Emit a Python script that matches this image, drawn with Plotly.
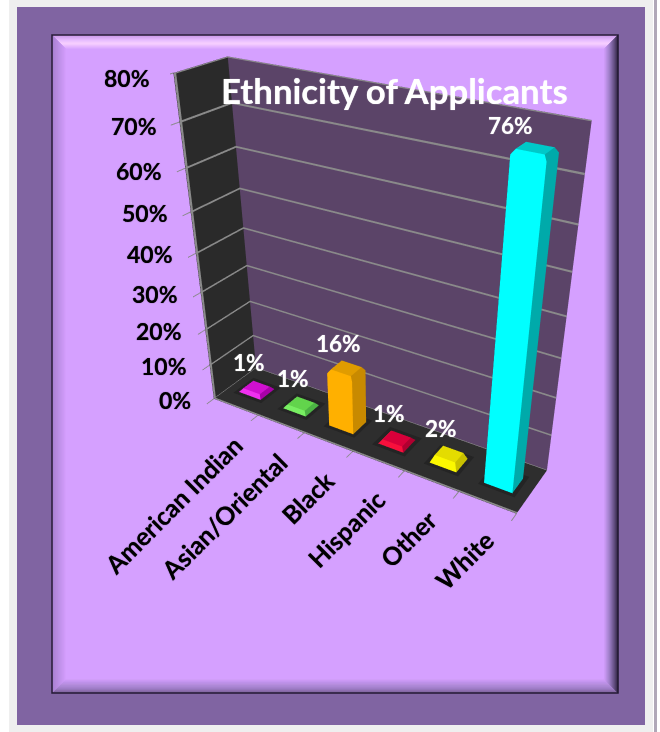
import plotly.graph_objects as go

categories = ["American Indian", "Asian/Oriental", "Black", "Hispanic", "Other", "White"]
values = [1, 1, 16, 1, 2, 76]
value_labels = ["1%", "1%", "16%", "1%", "2%", "76%"]
front = ["#f030f0", "#78ee62", "#ffb000", "#f8103c", "#fcf800", "#00ffff"]
side = ["#a800a8", "#4cb244", "#c88a00", "#b00030", "#c8c000", "#00aaaa"]
top = ["#d010d0", "#62d44c", "#e09c00", "#d8003a", "#e4dc00", "#00c8c8"]
tick_values = [0, 10, 20, 30, 40, 50, 60, 70, 80]
tick_labels = ["0%", "10%", "20%", "30%", "40%", "50%", "60%", "70%", "80%"]

W, Hh = 660, 732
FONT = "Lato"
GREY = "#8a8a8a"

HALF_W = .25
Y0, Y1 = .33, .67

FLAT = dict(ambient=1, diffuse=0, specular=0, roughness=1, fresnel=0)


def bar_mesh(i):
    """Box with a chamfered top edge; short bars are all chamfer, like a pillow."""
    c = i + .5
    h = values[i]
    tall = h > 5
    b = 1.0 if tall else h
    ix = .05 if tall else .06
    iy = .035 if tall else .05
    xs = [c - HALF_W, c + HALF_W, c + HALF_W, c - HALF_W]
    ys = [Y0, Y0, Y1, Y1]
    xi = [c - HALF_W + ix, c + HALF_W - ix, c + HALF_W - ix, c - HALF_W + ix]
    yi = [Y0 + iy, Y0 + iy, Y1 - iy, Y1 - iy]
    X = xs + xs + xi
    Y = ys + ys + yi
    Z = [0] * 4 + [h - b] * 4 + [h] * 4
    I, J, K, col = [], [], [], []

    def quad(p, q, r, s, color):
        I.extend([p, p])
        J.extend([q, r])
        K.extend([r, s])
        col.extend([color, color])

    quad(0, 1, 5, 4, front[i])
    quad(1, 2, 6, 5, side[i])
    quad(2, 3, 7, 6, side[i])
    quad(3, 0, 4, 7, side[i])
    quad(4, 5, 9, 8, front[i])
    quad(5, 6, 10, 9, side[i])
    quad(6, 7, 11, 10, top[i])
    quad(7, 4, 8, 11, top[i] if tall else front[i])
    quad(8, 9, 10, 11, top[i])
    return go.Mesh3d(x=X, y=Y, z=Z, i=I, j=J, k=K, facecolor=col, flatshading=True,
                     hoverinfo="skip", lighting=FLAT)


def shadow_mesh(i):
    c = i + .5
    m = .07
    return go.Mesh3d(x=[c - HALF_W - m, c + HALF_W + m, c + HALF_W + m, c - HALF_W - m],
                     y=[Y0 - .06, Y0 - .06, Y1 + .08, Y1 + .08], z=[.05] * 4,
                     i=[0, 0], j=[1, 2], k=[2, 3], color="#242424", flatshading=True,
                     hoverinfo="skip", lighting=FLAT)


def strips(quads):
    """One grey mesh out of thin quads, each given by its four corners."""
    X, Y, Z, I, J, K = [], [], [], [], [], []
    for corners in quads:
        n = len(X)
        for cx, cy, cz in corners:
            X.append(cx)
            Y.append(cy)
            Z.append(cz)
        I += [n, n]
        J += [n + 1, n + 2]
        K += [n + 2, n + 3]
    return go.Mesh3d(x=X, y=Y, z=Z, i=I, j=J, k=K, color=GREY, flatshading=True, hoverinfo="skip", lighting=FLAT)


# wall gridlines and the front edges of the box, wide enough to read as 2px rules
EPS_X, EPS_Y, HZ = .006, .996, .22
lines = []
for z in tick_values:
    lo, hi = max(z - HZ, .03), min(z + HZ, 80)
    lines.append([(EPS_X, 0, lo), (EPS_X, 1, lo), (EPS_X, 1, hi), (EPS_X, 0, hi)])
    lines.append([(0, EPS_Y, lo), (6, EPS_Y, lo), (6, EPS_Y, hi), (0, EPS_Y, hi)])
lines.append([(.006, 0, 0), (.006, .04, 0), (.006, .04, 80), (.006, 0, 80)])
lines.append([(0, 0, .06), (6, 0, .06), (6, .03, .06), (0, .03, .06)])

traces = [shadow_mesh(i) for i in range(6)] + [strips(lines)] + [bar_mesh(i) for i in range(6)]
fig = go.Figure(traces)


def px(x):
    return x / W


def py(y):
    return 1 - y / Hh


def rect(a, b, c, d, fill):
    return dict(type="rect", xref="paper", yref="paper", x0=px(a), x1=px(c), y0=py(b), y1=py(d),
                fillcolor=fill, line_width=0, layer="below")


def lerp_stops(stops, t):
    for (t1, c1), (t2, c2) in zip(stops, stops[1:]):
        if t <= t2:
            f = (t - t1) / (t2 - t1)
            a = [int(c1[i:i + 2], 16) for i in (1, 3, 5)]
            b = [int(c2[i:i + 2], 16) for i in (1, 3, 5)]
            return "rgb(%d,%d,%d)" % tuple(round(u + (v - u) * f) for u, v in zip(a, b))
    return stops[-1][1]


shapes = [rect(9, 0, 653, 732, "#efefef"), rect(654, 0, 657, 732, "#b0a8b8"),
          rect(17, 7, 645, 725, "#8064a2"), rect(52, 35, 618, 693, "#d5a0ff")]

# bevelled panel
BEVEL = 15
top_stops = [(0, "#c898e8"), (.35, "#e8bcff"), (.6, "#f8d0ff"), (1, "#d5a0ff")]
left_stops = [(0, "#a880d0"), (1, "#d5a0ff")]
right_stops = [(0, "#302640"), (.2, "#5c4878"), (.6, "#a080c8"), (1, "#d5a0ff")]
bottom_stops = [(0, "#7a6098"), (.3, "#a080c8"), (1, "#d5a0ff")]
L, Tp, R, B = 52, 35, 618, 693
for s in range(BEVEL):
    t = s / (BEVEL - 1)
    a, b = s, s + 1
    for stops, corners in (
        (top_stops, [(L + a, Tp + a), (R - a, Tp + a), (R - b, Tp + b), (L + b, Tp + b)]),
        (bottom_stops, [(L + a, B - a), (R - a, B - a), (R - b, B - b), (L + b, B - b)]),
        (left_stops, [(L + a, Tp + a), (L + b, Tp + b), (L + b, B - b), (L + a, B - a)]),
        (right_stops, [(R - a, Tp + a), (R - b, Tp + b), (R - b, B - b), (R - a, B - a)]),
    ):
        path = "M" + " L".join(f"{px(x):.5f},{py(y):.5f}" for x, y in corners) + " Z"
        c = lerp_stops(stops, t)
        shapes.append(dict(type="path", xref="paper", yref="paper", path=path, fillcolor=c,
                           line=dict(color=c, width=.5), layer="below"))
shapes.append(dict(type="rect", xref="paper", yref="paper", x0=px(L), x1=px(R), y0=py(Tp), y1=py(B),
                   line=dict(color="#241a34", width=1.5), layer="below"))

BLACK_FONT = dict(family=FONT, color="black", weight=700, shadow="0 0 1px rgba(0,0,0,0.7)")
WHITE_FONT = dict(family=FONT, color="white", weight=700, shadow="0 0 1px rgba(255,255,255,0.7)")

scene_ann = []
for v, t in zip(tick_values, tick_labels):
    scene_ann.append(dict(x=0, y=0, z=v, text=t, showarrow=False, xanchor="right", xshift=-21,
                          yshift=-1 - max(0, v - 50) * .13, font=dict(size=23, **BLACK_FONT)))
for i, c in enumerate(categories):
    scene_ann.append(dict(x=i + .5, y=0, z=0, text=c, showarrow=False, textangle=-45, xanchor="right",
                          yanchor="top", xshift=15, yshift=-20, font=dict(size=25, **BLACK_FONT)))
for i, t in enumerate(value_labels):
    scene_ann.append(dict(x=i + .5, y=.5, z=values[i], text=t, showarrow=False,
                          xshift=-25 if values[i] > 50 else -8, yshift=23 if values[i] > 50 else 25,
                          font=dict(size=22.5, **WHITE_FONT)))

ann = [dict(xref="paper", yref="paper", x=px(394), y=py(90), text="Ethnicity of Applicants", showarrow=False,
            xanchor="center", yanchor="middle", font=dict(size=34.8, **WHITE_FONT))]

scene = dict(
    domain=dict(x=[170 / W, 1], y=[0, 1]),
    aspectmode="manual",
    aspectratio=dict(x=1.036, y=0.211, z=1),
    camera=dict(eye=dict(x=1.132, y=-1.794, z=1.085), center=dict(x=0.190, y=-0.088, z=-0.153),
                up=dict(x=-1.557, y=2.697, z=1)),
    bgcolor="rgba(0,0,0,0)",
    annotations=scene_ann,
    xaxis=dict(range=[0, 6], tickvals=[0, 1, 2, 3, 4, 5, 6], showticklabels=False, showgrid=False, title="",
               ticks="outside", ticklen=8, tickwidth=2, tickcolor=GREY, showline=False, showbackground=True,
               backgroundcolor="#2a2a2a", zeroline=False, showspikes=False),
    yaxis=dict(range=[0, 1], tickvals=[], showticklabels=False, showgrid=False, title="", showline=False,
               showbackground=True, backgroundcolor="#5b4468", zeroline=False, showspikes=False),
    zaxis=dict(range=[0, 80], tickvals=tick_values, showticklabels=False, showgrid=False, title="",
               ticks="outside", ticklen=8, tickwidth=2, tickcolor=GREY, showline=False, showbackground=True,
               backgroundcolor="#2e2e2e", zeroline=False, showspikes=False),
)
fig.update_layout(width=W, height=Hh, margin=dict(l=0, r=0, t=0, b=0), paper_bgcolor="white", showlegend=False,
                  shapes=shapes, annotations=ann, scene=scene)
fig.write_html("out.html")
